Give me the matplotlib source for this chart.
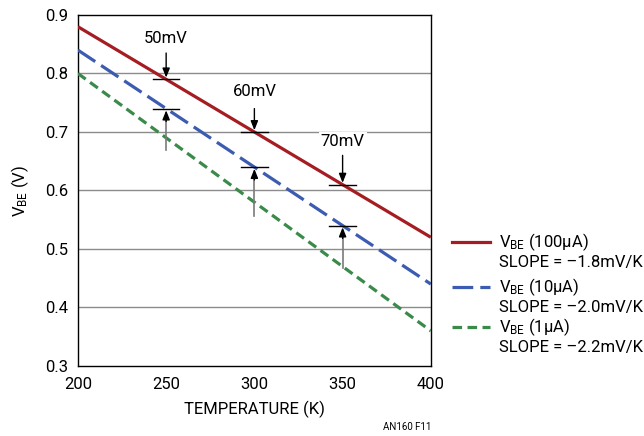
import matplotlib
matplotlib.use("Agg")
import matplotlib.pyplot as plt
from matplotlib.lines import Line2D

plt.rcParams['font.family'] = ['Roboto', 'DejaVu Sans']
plt.rcParams['mathtext.default'] = 'regular'

# Data
temps = [200, 400]
vbe_100u = [0.88, 0.52]
vbe_10u = [0.84, 0.44]
vbe_1u = [0.80, 0.36]
series_labels = ["V$_{BE}$ (100µA)", "V$_{BE}$ (10µA)", "V$_{BE}$ (1µA)"]
slope_labels = ["SLOPE = –1.8mV/K", "SLOPE = –2.0mV/K", "SLOPE = –2.2mV/K"]
ann_temps = [250, 300, 350]
ann_labels = ["50mV", "60mV", "70mV"]
xticks = [200, 250, 300, 350, 400]
yticks = [0.3, 0.4, 0.5, 0.6, 0.7, 0.8, 0.9]

red = "#a51d22"
blue = "#3b5cb0"
green = "#3a8a4a"

fig = plt.figure(figsize=(6.44, 4.36), dpi=100)
ax = fig.add_axes([0.121, 0.1606, 0.548, 0.805])

ax.set_xlim(200, 400)
ax.set_ylim(0.3, 0.9)
ax.set_xticks(xticks)
ax.set_yticks(yticks)
ax.set_xticklabels([str(t) for t in xticks])
ax.set_yticklabels([f"{v:.1f}" for v in yticks])
ax.tick_params(length=0, labelsize=12)
ax.tick_params(axis='x', pad=8)
ax.tick_params(axis='y', pad=7)
for s in ax.spines.values():
    s.set_linewidth(1.0)
for v in yticks[1:-1]:
    ax.axhline(v, color="#8c8c8c", lw=1.0, zorder=1)

lw = 2.3
ax.plot(temps, vbe_100u, color=red, lw=lw, solid_capstyle='butt', zorder=3)
ax.plot(temps, vbe_10u, color=blue, lw=lw, dashes=(6.5, 2.2), zorder=3)
ax.plot(temps, vbe_1u, color=green, lw=lw, dashes=(3.0, 1.7), zorder=3)

def interp(xs, ys, x):
    return ys[0] + (ys[1] - ys[0]) * (x - xs[0]) / (xs[1] - xs[0])

text_off = [0.070, 0.070, 0.074]
down_len = [0.045, 0.040, 0.050]
up_len = [0.071, 0.083, 0.073]
for i, (t, lab) in enumerate(zip(ann_temps, ann_labels)):
    vr = interp(temps, vbe_100u, t)
    vb = interp(temps, vbe_10u, t)
    ax.plot([t - 7.5, t + 7.5], [vr, vr], color="black", lw=1.0, zorder=4)
    ax.plot([t - 7.5, t + 7.5], [vb, vb], color="black", lw=1.0, zorder=4)
    ax.annotate("", xy=(t, vr + 0.003), xytext=(t, vr + down_len[i]),
                arrowprops=dict(arrowstyle="-|>,head_length=0.55,head_width=0.22",
                                color="black", lw=1.0, shrinkA=0, shrinkB=0), zorder=5)
    ax.plot([t, t], [vb - up_len[i], vb - 0.02], color="#7a7a7a", lw=1.2, zorder=4)
    ax.annotate("", xy=(t, vb - 0.003), xytext=(t, vb - 0.022),
                arrowprops=dict(arrowstyle="-|>,head_length=0.55,head_width=0.22",
                                color="black", lw=1.0, shrinkA=0, shrinkB=0), zorder=5)
    ax.text(t, vr + text_off[i], lab, ha="center", va="center",
            fontsize=12, zorder=6,
            bbox=dict(facecolor="white", edgecolor="none", pad=1.5))

ax.set_xlabel("TEMPERATURE (K)", fontsize=12, labelpad=6)
ax.set_ylabel("V$_{BE}$ (V)", fontsize=12, labelpad=10)

W, H = 644.0, 436.0
rows_y = [242, 287, 327]
colors = [red, blue, green]
styles = [dict(), dict(dashes=(6.5, 2.2)), dict(dashes=(3.0, 1.7))]
for y, c, st, l1, l2 in zip(rows_y, colors, styles, series_labels, slope_labels):
    fig.add_artist(Line2D([452 / W, 490 / W], [1 - y / H, 1 - y / H], color=c, lw=lw, **st))
    fig.text(499 / W, 1 - y / H, l1, fontsize=12, va="center", ha="left")
    fig.text(499 / W, 1 - (y + 20.5) / H, l2, fontsize=12, va="center", ha="left")

fig.text(407 / W, 1 - 427 / H, "AN160 F11", fontsize=7, ha="center", va="center")

fig.savefig("out.png", dpi=100)
